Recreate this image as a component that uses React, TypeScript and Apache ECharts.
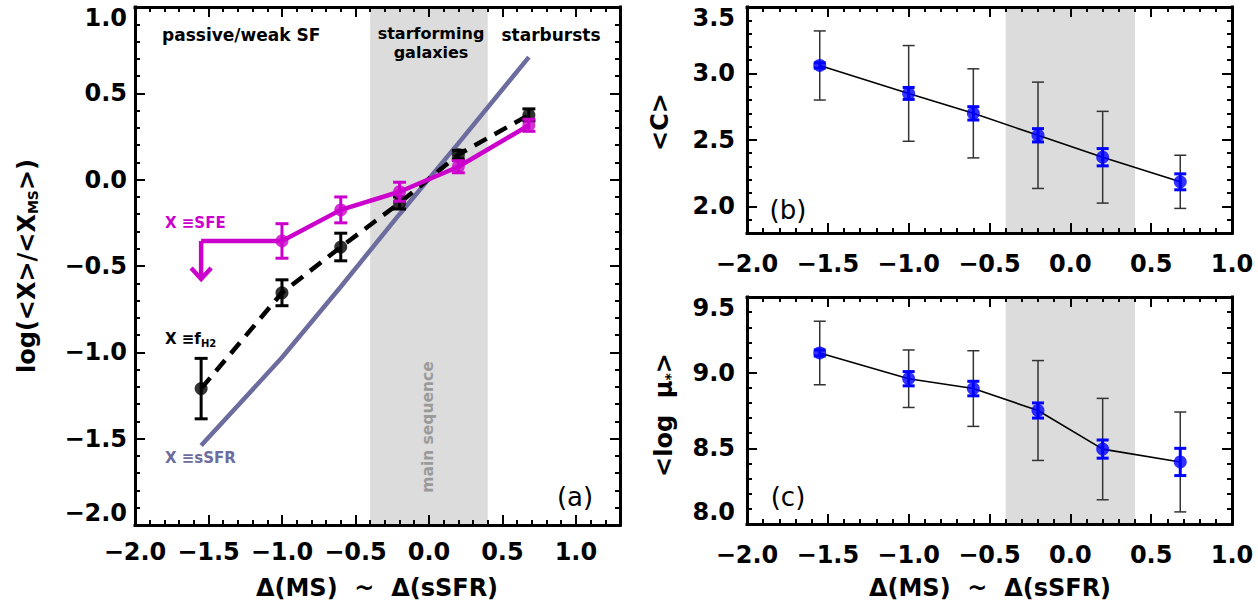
import React, { useEffect, useRef } from 'react';
import * as echarts from 'echarts';

// ---------- data ----------
const xBins = [-1.55, -1.0, -0.6, -0.2, 0.2, 0.68];
const msBand = [-0.4, 0.4];

// panel (a)
const sfeX = [-1.0, -0.6, -0.2, 0.2, 0.68];
const sfeVals = [-0.355, -0.175, -0.07, 0.075, 0.315];
const sfeErr = [0.1, 0.075, 0.055, 0.035, 0.035];
const sfeLimit = [-1.55, -0.355];
const fh2Vals = [-1.21, -0.655, -0.39, -0.135, 0.145, 0.375];
const fh2Err = [0.175, 0.075, 0.08, 0.035, 0.025, 0.035];
const ssfrVals = [-1.54, -1.03, -0.62, -0.2, 0.21, 0.71];

// panel (b)
const cVals = [3.06, 2.85, 2.70, 2.535, 2.37, 2.185];
const cScatter = [0.26, 0.36, 0.335, 0.40, 0.345, 0.20];
const cMeanErr = [0.02, 0.045, 0.05, 0.05, 0.065, 0.06];

// panel (c)
const muVals = [9.13, 8.96, 8.895, 8.75, 8.495, 8.41];
const muScatter = [0.21, 0.19, 0.25, 0.33, 0.335, 0.33];
const muMeanErr = [0.02, 0.047, 0.048, 0.05, 0.06, 0.09];

// axis ranges and tick labels
const xRangeA = [-2, 1.3];
const yRangeA = [-2, 1];
const xRangeBC = [-2, 1];
const yRangeB = [1.8, 3.5];
const yRangeC = [8.0, 9.5];
const xTicks = [-2.0, -1.5, -1.0, -0.5, 0.0, 0.5, 1.0];
const yTicksA = [-2.0, -1.5, -1.0, -0.5, 0.0, 0.5, 1.0];
const yTicksB = [2.0, 2.5, 3.0, 3.5];
const yTicksC = [8.0, 8.5, 9.0, 9.5];

// ---------- style ----------
const FONT = '"DejaVu Sans", sans-serif';
const MAG = '#CC00CC';
const PURP = '#6C6C9E';
const BLUE = '#0000FF';
const BAND = '#DCDCDC';

function fmt(v: number) {
  if (Math.abs(v) < 1e-9) v = 0;
  return v.toFixed(1).replace('-', '\u2212');
}

const labelFont = { fontFamily: FONT, fontSize: 24, fontWeight: 'bold' as const, color: '#000' };

function axesFor(dim: 'x' | 'y', gridIndex: number, range: number[], ticks: number[], margin: number) {
  const [min, max] = range;
  const posA = dim === 'x' ? 'bottom' : 'left';
  const posB = dim === 'x' ? 'top' : 'right';
  const base = { type: 'value', gridIndex, min, max, z: 10, splitLine: { show: false } };
  const line = (show: boolean) => ({ show, onZero: false, lineStyle: { color: '#000', width: 3, cap: 'square' } });
  const tick = (len: number, custom?: number[]) => ({
    show: true, inside: true, length: len, lineStyle: { color: '#000', width: 2 },
    ...(custom ? { customValues: custom } : {}),
  });
  const label: any = {
    show: true,
    margin,
    ...labelFont,
    customValues: ticks,
    formatter: (v: number) => {
      const s = fmt(v);
      if (dim === 'y') {
        if (Math.abs(v - max) < 1e-6) return `{top|${s}}`;
        if (Math.abs(v - min) < 1e-6) return `{bot|${s}}`;
      }
      return s;
    },
    rich: {
      top: { ...labelFont, padding: [22, 0, 0, 0] },
      bot: { ...labelFont, padding: [0, 0, 24, 0] },
    },
  };
  return [
    { ...base, position: posA, interval: 0.5, axisLine: line(true), axisTick: tick(10, ticks), axisLabel: label },
    { ...base, position: posA, interval: 0.1, axisLine: line(false), axisTick: tick(5), axisLabel: { show: false } },
    { ...base, position: posB, interval: 0.5, axisLine: line(true), axisTick: tick(10, ticks), axisLabel: { show: false } },
    { ...base, position: posB, interval: 0.1, axisLine: line(false), axisTick: tick(5), axisLabel: { show: false } },
  ];
}

function errRender(capHalf: number, color: string, width: number) {
  return (params: any, api: any) => {
    const x = api.value(0), y = api.value(1), e = api.value(2);
    const t = api.coord([x, y + e]);
    const b = api.coord([x, y - e]);
    const st = { stroke: color, lineWidth: width };
    return {
      type: 'group',
      children: [
        { type: 'line', shape: { x1: t[0], y1: t[1], x2: b[0], y2: b[1] }, style: st },
        { type: 'line', shape: { x1: t[0] - capHalf, y1: t[1], x2: t[0] + capHalf, y2: t[1] }, style: st },
        { type: 'line', shape: { x1: b[0] - capHalf, y1: b[1], x2: b[0] + capHalf, y2: b[1] }, style: st },
      ],
    };
  };
}

function bandSeries(idx: number, yRange: number[]) {
  return {
    type: 'custom',
    xAxisIndex: idx,
    yAxisIndex: idx,
    z: 1,
    silent: true,
    data: [[msBand[0], msBand[1]]],
    renderItem: (params: any, api: any) => {
      const p0 = api.coord([api.value(0), yRange[1]]);
      const p1 = api.coord([api.value(1), yRange[0]]);
      return { type: 'rect', shape: { x: p0[0], y: p0[1], width: p1[0] - p0[0], height: p1[1] - p0[1] }, style: { fill: BAND } };
    },
  };
}

function buildOption() {
  const xAxis = [
    ...axesFor('x', 0, xRangeA, xTicks, 15),
    ...axesFor('x', 1, xRangeBC, xTicks, 19),
    ...axesFor('x', 2, xRangeBC, xTicks, 19),
  ];
  const yAxis = [
    ...axesFor('y', 0, yRangeA, yTicksA, 8),
    ...axesFor('y', 1, yRangeB, yTicksB, 12),
    ...axesFor('y', 2, yRangeC, yTicksC, 12),
  ];
  const A = 0, B = 4, C = 8;

  const series: any[] = [
    // ---- panel (a)
    bandSeries(A, yRangeA),
    {
      type: 'line', xAxisIndex: A, yAxisIndex: A, z: 3, symbol: 'none',
      data: xBins.map((x, i) => [x, ssfrVals[i]]),
      lineStyle: { color: PURP, width: 4.5 },
    },
    {
      type: 'line', xAxisIndex: A, yAxisIndex: A, z: 4, symbol: 'none',
      data: xBins.map((x, i) => [x, fh2Vals[i]]),
      lineStyle: { color: '#000', width: 4.5, type: [14, 9] },
    },
    {
      type: 'custom', xAxisIndex: A, yAxisIndex: A, z: 5,
      data: xBins.map((x, i) => [x, fh2Vals[i], fh2Err[i]]),
      renderItem: errRender(6.5, '#000', 3),
    },
    {
      type: 'scatter', xAxisIndex: A, yAxisIndex: A, z: 6, symbol: 'circle', symbolSize: 13,
      itemStyle: { color: '#000' },
      data: xBins.map((x, i) => [x, fh2Vals[i]]),
    },
    {
      type: 'line', xAxisIndex: A, yAxisIndex: A, z: 7, symbol: 'none',
      data: [sfeLimit, ...sfeX.map((x, i) => [x, sfeVals[i]])],
      lineStyle: { color: MAG, width: 4.5 },
    },
    {
      type: 'custom', xAxisIndex: A, yAxisIndex: A, z: 7,
      data: [sfeLimit],
      renderItem: (params: any, api: any) => {
        const p = api.coord([api.value(0), api.value(1)]);
        const st = { stroke: MAG, lineWidth: 4.5, fill: 'none' };
        return {
          type: 'group',
          children: [
            { type: 'polyline', shape: { points: [[p[0], p[1]], [p[0], p[1] + 38]] }, style: st },
            { type: 'polyline', shape: { points: [[p[0] - 10, p[1] + 27], [p[0], p[1] + 38], [p[0] + 10, p[1] + 27]] }, style: st },
          ],
        };
      },
    },
    {
      type: 'custom', xAxisIndex: A, yAxisIndex: A, z: 8,
      data: sfeX.map((x, i) => [x, sfeVals[i], sfeErr[i]]),
      renderItem: errRender(6.5, MAG, 3),
    },
    {
      type: 'scatter', xAxisIndex: A, yAxisIndex: A, z: 9, symbol: 'circle', symbolSize: 13,
      itemStyle: { color: MAG },
      data: sfeX.map((x, i) => [x, sfeVals[i]]),
    },
  ];

  const rightPanel = (idx: number, yRange: number[], vals: number[], scat: number[], meanErr: number[]) => [
    bandSeries(idx, yRange),
    {
      type: 'custom', xAxisIndex: idx, yAxisIndex: idx, z: 3,
      data: xBins.map((x, i) => [x, vals[i], scat[i]]),
      renderItem: errRender(6, '#333', 1.5),
    },
    {
      type: 'line', xAxisIndex: idx, yAxisIndex: idx, z: 4, symbol: 'none',
      data: xBins.map((x, i) => [x, vals[i]]),
      lineStyle: { color: '#000', width: 1.6 },
    },
    {
      type: 'custom', xAxisIndex: idx, yAxisIndex: idx, z: 5,
      data: xBins.map((x, i) => [x, vals[i], meanErr[i]]),
      renderItem: errRender(6, BLUE, 3),
    },
    {
      type: 'scatter', xAxisIndex: idx, yAxisIndex: idx, z: 6, symbol: 'circle', symbolSize: 13,
      itemStyle: { color: BLUE },
      data: xBins.map((x, i) => [x, vals[i]]),
    },
  ];
  series.push(...rightPanel(B, yRangeB, cVals, cScatter, cMeanErr));
  series.push(...rightPanel(C, yRangeC, muVals, muScatter, muMeanErr));

  const txt = (text: string, x: number, y: number, opts: any = {}) => ({
    type: 'text',
    x, y,
    rotation: opts.rotation || 0,
    z: 100,
    style: {
      text,
      fontFamily: FONT,
      fontSize: opts.fontSize || 17,
      fontWeight: opts.fontWeight || 'bold',
      fill: opts.fill || '#000',
      align: opts.align || 'left',
      verticalAlign: opts.verticalAlign || 'middle',
      rich: opts.rich,
    },
  });

  const subRich = (size: number, color: string, pad: number) => ({
    s: { fontFamily: FONT, fontSize: size, fontWeight: 'bold', fill: color, color, padding: [pad, 0, 0, 0] },
  });

  const graphic = [
    txt('passive/weak SF', 162, 35),
    txt('starforming', 431, 33, { align: 'center', fontSize: 16 }),
    txt('galaxies', 431, 52, { align: 'center', fontSize: 16 }),
    txt('starbursts', 551, 35, { align: 'center' }),
    txt('main sequence', 428, 427, { align: 'center', rotation: Math.PI / 2, fill: '#9A9A9A', fontSize: 15.5 }),
    txt('(a)', 575, 497, { align: 'center', fontWeight: 'normal', fontSize: 26 }),
    txt('(b)', 788, 210, { align: 'center', fontWeight: 'normal', fontSize: 26 }),
    txt('(c)', 788, 497, { align: 'center', fontWeight: 'normal', fontSize: 26 }),
    txt('X \u2261SFE', 165, 223, { fill: MAG, fontSize: 15 }),
    txt('X \u2261f{s|H2}', 165, 339, { fontSize: 15, rich: subRich(10, '#000', 9) }),
    txt('X \u2261sSFR', 165, 458, { fill: PURP, fontSize: 15 }),
    // axis titles
    txt('\u0394(MS)  ~  \u0394(sSFR)', 377, 588, { align: 'center', fontSize: 24 }),
    txt('\u0394(MS)  ~  \u0394(sSFR)', 990, 588, { align: 'center', fontSize: 24 }),
    txt('log(<X>/<X{s|MS}>)', 27, 266, { align: 'center', fontSize: 24, rotation: Math.PI / 2, rich: subRich(14, '#000', 12) }),
    txt('<C>', 660, 122, { align: 'center', fontSize: 24, rotation: Math.PI / 2 }),
    txt('<log  \u03bc{s|*}>', 664, 415, { align: 'center', fontSize: 24, rotation: Math.PI / 2, rich: subRich(14, '#000', 12) }),
  ];

  return {
    animation: false,
    backgroundColor: '#fff',
    grid: [
      { left: 135, top: 7, width: 485, height: 518 },
      { left: 747, top: 7, width: 485, height: 226 },
      { left: 747, top: 297, width: 485, height: 227 },
    ],
    xAxis,
    yAxis,
    series,
    graphic,
  };
}

export default function App() {
  const ref = useRef<HTMLDivElement>(null);
  useEffect(() => {
    if (!ref.current) return;
    const chart = echarts.init(ref.current, null, { renderer: 'svg' });
    chart.setOption(buildOption() as any);
    return () => chart.dispose();
  }, []);
  return (
    <div
      ref={ref}
      style={{ position: 'absolute', left: 0, top: 0, width: 1258, height: 607, background: '#fff' }}
    />
  );
}
